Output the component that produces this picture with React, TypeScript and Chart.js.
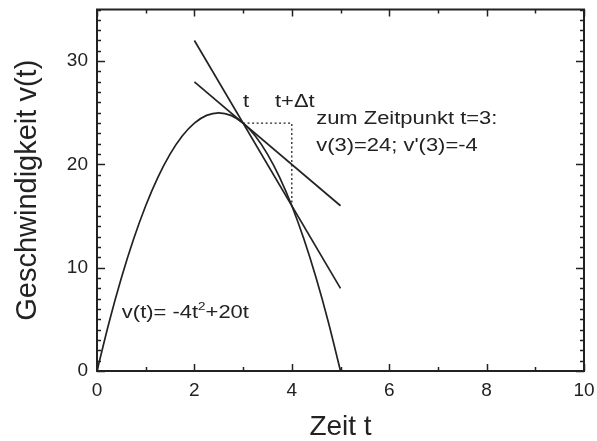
import React, { useEffect, useRef } from "react";
import { Chart, registerables } from "chart.js";
Chart.register(...registerables);

const curveT = [0, 0.25, 0.5, 0.75, 1, 1.25, 1.5, 1.75, 2, 2.25, 2.5, 2.75, 3, 3.25, 3.5, 3.75, 4, 4.25, 4.5, 4.75, 5];
const curveV = [0, 4.75, 9, 12.75, 16, 18.75, 21, 22.75, 24, 24.75, 25, 24.75, 24, 22.75, 21, 18.75, 16, 12.75, 9, 4.75, 0];
const tangentT = [2, 5];
const tangentV = [28, 16];
const secantT = [2, 5];
const secantV = [32, 8];
const dottedT = [3, 4, 4];
const dottedV = [24, 24, 16];
const xRange = [0, 10];
const yRange = [0, 35];
const yLabelMax = 30;
const xLabelStep = 2;
const yLabelStep = 10;
const xTitle = "Zeit t";
const yTitle = "Geschwindigkeit v(t)";
const noteT = ["t", "t+\u0394t", "zum Zeitpunkt t=3:", "v(3)=24; v'(3)=-4"];
const noteX = [3.0, 3.655, 4.5, 4.5];
const noteY = [25.55, 25.55, 23.9, 21.3];
const formulaParts = ["v(t)= -4t", "2", "+20t"];
const formulaX = 0.51;
const formulaY = 5.13;

const FONT = "'Liberation Sans', Arial, sans-serif";
const STRETCH = 1.22;

const pts = (xs: number[], ys: number[]) => xs.map((x, i) => ({ x, y: ys[i] }));

const framePlugin = {
  id: "frameTicks",
  afterDraw(chart: any) {
    const { ctx, chartArea: a, scales } = chart;
    const xs = scales.x;
    const ys = scales.y;
    ctx.save();
    ctx.strokeStyle = "#222";
    ctx.lineWidth = 2;
    ctx.strokeRect(a.left, a.top, a.right - a.left, a.bottom - a.top);
    ctx.lineWidth = 1.5;
    for (let v = xRange[0]; v <= xRange[1]; v += 1) {
      const px = Math.round(xs.getPixelForValue(v)) + 0.5;
      const len = v % xLabelStep === 0 ? 7 : 4;
      ctx.beginPath();
      ctx.moveTo(px, a.bottom);
      ctx.lineTo(px, a.bottom - len);
      ctx.moveTo(px, a.top);
      ctx.lineTo(px, a.top + len);
      ctx.stroke();
    }
    for (let v = yRange[0]; v <= yRange[1]; v += 1) {
      const py = Math.round(ys.getPixelForValue(v)) + 0.5;
      const len = v % yLabelStep === 0 ? 8 : 4;
      ctx.beginPath();
      ctx.moveTo(a.left, py);
      ctx.lineTo(a.left + len, py);
      ctx.moveTo(a.right, py);
      ctx.lineTo(a.right - len, py);
      ctx.stroke();
    }
    // annotations (horizontally stretched like the reference lettering)
    ctx.fillStyle = "#222";
    ctx.textBaseline = "alphabetic";
    ctx.textAlign = "left";
    const put = (t: string, x: number, y: number, size: number) => {
      ctx.save();
      ctx.translate(x, y);
      ctx.scale(STRETCH, 1);
      ctx.font = `${size}px ${FONT}`;
      ctx.fillText(t, 0, 0);
      const w = ctx.measureText(t).width * STRETCH;
      ctx.restore();
      return w;
    };
    noteT.forEach((t, i) => {
      put(t, xs.getPixelForValue(noteX[i]), ys.getPixelForValue(noteY[i]), 18);
    });
    let fx = xs.getPixelForValue(formulaX);
    const fy = ys.getPixelForValue(formulaY);
    fx += put(formulaParts[0], fx, fy, 18);
    fx += put(formulaParts[1], fx, fy - 8, 11);
    put(formulaParts[2], fx, fy, 18);
    ctx.restore();
  },
};

export default function App() {
  const ref = useRef<HTMLCanvasElement>(null);
  useEffect(() => {
    document.body.style.margin = "0";
    const lineDs = (data: any, extra: any = {}) => ({
      data,
      showLine: true,
      borderColor: "#222",
      borderWidth: 1.7,
      pointRadius: 0,
      fill: false,
      ...extra,
    });
    const chart = new Chart(ref.current!, {
      type: "scatter",
      data: {
        datasets: [
          lineDs(pts(curveT, curveV), { cubicInterpolationMode: "monotone" }),
          lineDs(pts(tangentT, tangentV)),
          lineDs(pts(secantT, secantV)),
          lineDs(pts(dottedT, dottedV), { borderWidth: 1.3, borderDash: [2, 2.5] }),
        ],
      },
      options: {
        animation: false,
        responsive: false,
        maintainAspectRatio: false,
        layout: { padding: { top: 9.5, right: 13, left: 0, bottom: 0 } },
        plugins: { legend: { display: false }, tooltip: { enabled: false } },
        scales: {
          x: {
            type: "linear",
            min: xRange[0],
            max: xRange[1],
            grid: { display: false, drawTicks: false },
            border: { display: false },
            ticks: { stepSize: xLabelStep, padding: 8, color: "#222", font: { family: FONT, size: 19 } },
            title: { display: true, text: xTitle, color: "#222", font: { family: FONT, size: 28, lineHeight: 0.96 }, padding: 0 },
            afterFit: (s: any) => { s.height = 70; s.paddingLeft = 0; s.paddingRight = 0; },
          },
          y: {
            type: "linear",
            min: yRange[0],
            max: yRange[1],
            grid: { display: false, drawTicks: false },
            border: { display: false },
            ticks: {
              stepSize: yLabelStep,
              padding: 9,
              color: "#222",
              font: { family: FONT, size: 19 },
              callback: (v: any) => (v > yLabelMax ? "" : v),
            },
            title: { display: true, text: yTitle, color: "#222", font: { family: FONT, size: 29 }, padding: { top: 11, bottom: 0 } },
            afterFit: (s: any) => { s.width = 97; s.paddingTop = 0; s.paddingBottom = 0; },
          },
        },
      },
      plugins: [framePlugin],
    } as any);
    return () => chart.destroy();
  }, []);
  return (
    <div style={{ position: "fixed", left: 0, top: 0, width: 597, height: 441, background: "#fff" }}>
      <canvas ref={ref} width={597} height={441} style={{ width: 597, height: 441 }} />
    </div>
  );
}
